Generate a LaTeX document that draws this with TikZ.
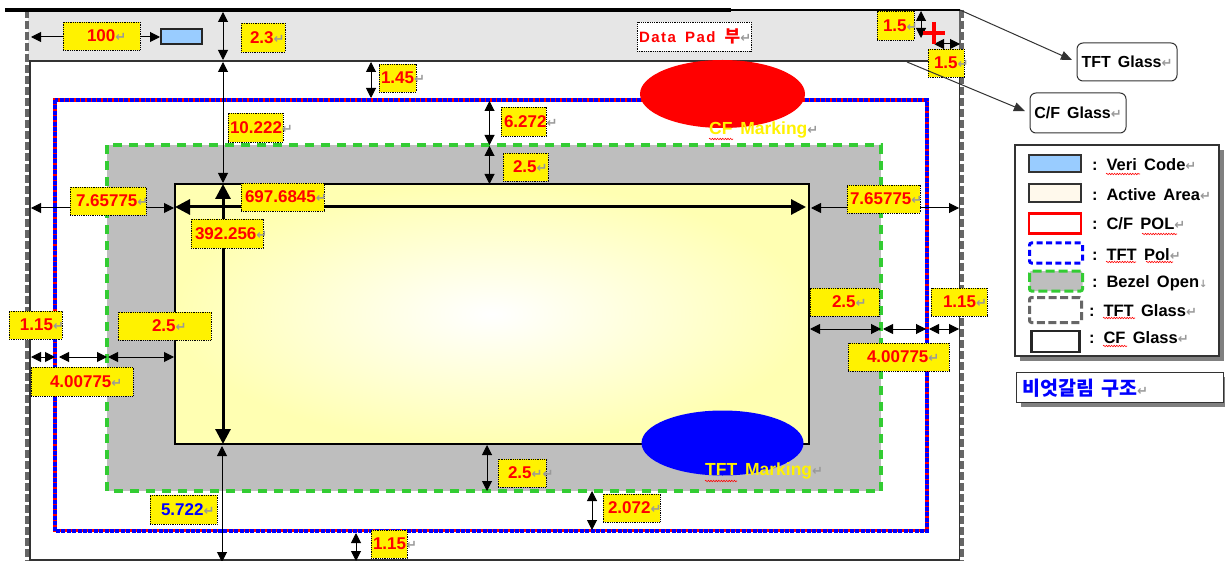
\documentclass[tikz,border=0pt]{standalone}
\usepackage{fontspec}
\setmainfont[WordSpace=1.6]{Liberation Sans}
\newfontfamily\krfont[WordSpace=1.6]{Noto Sans CJK KR}
\newfontfamily\djfont{DejaVu Sans}
\usetikzlibrary{arrows.meta,decorations.pathmorphing,shapes.geometric}
\definecolor{labred}{HTML}{FF0000}
\definecolor{padgray}{HTML}{E6E6E6}
\definecolor{bezgray}{HTML}{BEBEBE}
\definecolor{bezgreen}{HTML}{33CC33}
\definecolor{veri}{HTML}{99CCFF}
\definecolor{actfill}{HTML}{FFF9EC}
\definecolor{glassgray}{HTML}{666666}
\definecolor{retgray}{HTML}{999999}
\newcommand\ret{\smash{{\djfont\fontsize{13}{14}\selectfont\textcolor{retgray}{↵}}}}
\newcommand\dimline[3]{%
  \coordinate (#1-a) at (#2);\coordinate (#1-b) at (#3);
  \draw[dimarrow] (#1-a) -- (#1-b);}
\newcommand\lab[7][labred]{%
  \pgfmathsetmacro\labw{#4-#2}\pgfmathsetmacro\labh{#5-#3}%
  \node[ylab,minimum width=\labw pt,minimum height=\labh pt] (#7) at ({(#2+#4)/2},{(#3+#5)/2})
    {\makebox[\labw pt][l]{\hspace*{#6pt}\rlap{\raisebox{-1.5pt}{\textcolor{#1}{\csname lab@#7\endcsname}\ret}}}};}
\tikzset{
  x=1pt,y=-1pt,
  dimarrow/.style={line width=1pt,black,{Triangle[length=10pt,width=10pt]}-{Triangle[length=10pt,width=10pt]}},
  bigarrow/.style={line width=3pt,black,{Triangle[length=15pt,width=15pt]}-{Triangle[length=15pt,width=15pt]}},
  lead/.style={line width=1pt,black!80,-{Triangle[length=11pt,width=9pt]},shorten >=5pt},
  ylab/.style={fill=yellow,draw=black,densely dotted,line width=.8pt,inner sep=0pt,font=\fontsize{17}{20}\selectfont\bfseries},
  legtext/.style={anchor=west,inner sep=0pt,font=\fontsize{16.5}{18}\selectfont\bfseries},
  swatch/.style={draw=black!80,line width=1.2pt},
  roundbox/.style={draw=black!80,line width=1pt,rounded corners=6pt,fill=white,inner sep=0pt,font=\fontsize{16}{18}\selectfont\bfseries},
  polred/.style={draw=red,line width=3.4pt},
  polblue/.style={draw=blue,line width=3.4pt,dash pattern=on 4pt off 1.4pt},
  bezel/.style={draw=bezgreen,line width=4pt,dash pattern=on 9pt off 7pt},
  tftg/.style={draw=glassgray,line width=3.5pt,dash pattern=on 8pt off 3pt},
  squig/.style={draw=red,line width=.6pt,decorate,decoration={snake,segment length=2.6pt,amplitude=.7pt}},
}
\begin{document}
\begin{tikzpicture}
\useasboundingbox (0,0) rectangle (1225,561);
\fill[white] (0,0) rectangle (1225,561);
% glass and pad
\fill[padgray] (28,11) rectangle (960,61);
\draw[black!80,line width=1.5pt] (30,61) rectangle (959.5,560);
\draw[tftg] (27,10) -- (27,570);
\draw[tftg] (962,10) -- (962,570);
\draw[glassgray,line width=1.5pt] (960,10) -- (960,62);
\draw[black,line width=1.2pt] (5,10) -- (960,10);
\draw[black,line width=4pt] (5,10) -- (731,10);
% POL
\draw[polred] (55,100) rectangle (927,530.5);
\draw[polblue] (55,100) rectangle (927,531);
% bezel
\filldraw[fill=bezgray,bezel] (107,145.5) rectangle (881,491);
% active
\shade[inner color=white,outer color=yellow!30!white] (175,184) rectangle (809,444);
\node[draw=black,line width=2.2pt,inner sep=0pt,minimum width=634pt,minimum height=260pt] (active) at (492,314) {};
% marks
\node[ellipse,fill=red,minimum width=165pt,minimum height=68pt,inner sep=0pt] (cfmark) at (722.5,94) {};
\node[ellipse,fill=blue,minimum width=162pt,minimum height=65pt,inner sep=0pt] (tftmark) at (722.5,443) {};
\node[draw=black!85,fill=veri,line width=1.2pt,minimum width=41pt,minimum height=15pt,inner sep=0pt] (vericode) at (181.5,36.5) {};
% dimension lines
\dimline{d100}{31,37}{160,37}
\dimline{d23}{223,12}{223,60}
\dimline{d10}{223,62}{223,183}
\dimline{d145}{371,62}{371,98}
\dimline{d6}{489.5,101}{489.5,145}
\dimline{d25t}{489.5,146}{489.5,184}
\dimline{d7l}{31,208}{174,208}
\dimline{d7r}{811,208}{959,208}
\dimline{d115l}{31,357}{55,357}
\dimline{d4l}{59,357}{107,357}
\dimline{d25l}{108,357}{174,357}
\dimline{d25r}{810,329}{881,329}
\dimline{d4r}{883,329}{926,329}
\dimline{d115r}{929,329}{959,329}
\dimline{d25b}{487,445}{487,491}
\dimline{d2072}{592,491}{592,530}
\dimline{d5}{222,446}{222,562}
\dimline{d115b}{356,533}{356,561}
\dimline{d15a}{921,11}{921,38}
\dimline{d15b}{934,44}{960,44}
\coordinate (bigh-a) at (175,207);\coordinate (bigh-b) at (806,207);
\draw[bigarrow] (bigh-a) -- (bigh-b);
\coordinate (bigv-a) at (223,184);\coordinate (bigv-b) at (223,444);
\draw[bigarrow] (bigv-a) -- (bigv-b);
% plus mark
\draw[red,line width=3.5pt] (923,33) -- (945,33) (934,22) -- (934,44);
% labels
\makeatletter
\@namedef{lab@l100}{100}\@namedef{lab@l23}{2.3}\@namedef{lab@l145}{1.45}
\@namedef{lab@l10}{10.222}\@namedef{lab@l6}{6.272}\@namedef{lab@l25t}{2.5}
\@namedef{lab@l697}{697.6845}\@namedef{lab@l392}{392.256}
\@namedef{lab@l7l}{7.65775}\@namedef{lab@l7r}{7.65775}
\@namedef{lab@l115l}{1.15}\@namedef{lab@l25l}{2.5}\@namedef{lab@l4l}{4.00775}
\@namedef{lab@l25r}{2.5}\@namedef{lab@l115r}{1.15}\@namedef{lab@l4r}{4.00775}
\@namedef{lab@l25b}{2.5\ret}\@namedef{lab@l2072}{2.072}\@namedef{lab@l5}{5.722}
\@namedef{lab@l115b}{1.15}\@namedef{lab@l15a}{1.5}\@namedef{lab@l15b}{1.5}
\makeatother
\lab{63}{22}{140}{50}{24}{l100}
\lab{241}{23}{285}{52}{9}{l23}
\lab{379}{64}{416}{92}{2}{l145}
\lab{228}{113}{283}{142}{2}{l10}
\lab{501}{107}{546}{136}{3}{l6}
\lab{503}{153}{548}{181}{10}{l25t}
\lab{241}{183}{324}{211}{4}{l697}
\lab{191}{219}{263}{248}{4}{l392}
\lab{70}{187}{146}{215}{6}{l7l}
\lab{847}{185}{920}{213}{3}{l7r}
\lab{9}{311}{62}{339}{11}{l115l}
\lab{118}{312}{211}{340}{34}{l25l}
\lab{31}{367}{133}{396}{19}{l4l}
\lab{810}{288}{879}{316}{22}{l25r}
\lab{931}{288}{987}{316}{12}{l115r}
\lab{848}{343}{949}{371}{19}{l4r}
\lab{498}{459}{546}{487}{10}{l25b}
\lab{603}{494}{660}{522}{5}{l2072}
\lab[blue]{150}{495}{217}{524}{11}{l5}
\lab{371}{530}{407}{558}{2}{l115b}
\lab{877}{11}{914}{40}{6}{l15a}
\lab{928}{49}{964}{77}{6}{l15b}
% data pad
\node[fill=white,draw=black,densely dotted,line width=.8pt,inner sep=0pt,minimum width=114pt,minimum height=29pt,
  font=\fontsize{15}{18}\selectfont\bfseries] (datapad) at (694,36.5)
  {\makebox[114pt][l]{\hspace*{2pt}\rlap{\textcolor{red}{\addfontfeature{LetterSpace=10}Data Pad {\krfont\fontsize{17}{18}\selectfont 부}}\ret}}};
% marking texts
\node[anchor=west,inner sep=0pt,font=\fontsize{17.5}{18}\selectfont\bfseries] (cftext) at (709,130) {\textcolor{yellow}{CF Marking}\ret};
\node[anchor=west,inner sep=0pt,font=\fontsize{17.5}{18}\selectfont\bfseries] (tfttext) at (705,471) {\textcolor{yellow}{TFT Marking}\ret};
\draw[squig] (709,139) -- (733,139);
\draw[squig] (705,481) -- (737,481);
% call-outs
\node[roundbox,minimum width=100pt,minimum height=38pt] (tftbox) at (1127,62) {TFT Glass\ret};
\node[roundbox,minimum width=96pt,minimum height=40pt] (cfbox) at (1078,113) {C/F Glass\ret};
\coordinate (tftcorner) at (960,10);
\coordinate (cfcorner) at (907,62);
\draw[lead] (tftcorner) -- (tftbox.west);
\draw[lead] (cfcorner) -- (cfbox.west);
% legend
\fill[gray] (1020,150) rectangle (1224,361);
\node[draw=black!80,fill=white,line width=1.2pt,minimum width=204pt,minimum height=211pt,inner sep=0pt] (legend) at (1117,250.5) {};
\node[swatch,fill=veri,minimum width=52pt,minimum height=17pt,inner sep=0pt] (s1) at (1055,163.5) {};
\node[legtext] (t1) at (1092,165) {: Veri Code\ret};
\node[swatch,fill=actfill,minimum width=52pt,minimum height=18pt,inner sep=0pt] (s2) at (1055,193) {};
\node[legtext] (t2) at (1092,195) {: Active Area\ret};
\node[draw=red,line width=2.5pt,fill=white,minimum width=52pt,minimum height=20pt,inner sep=0pt] (s3) at (1055,223.5) {};
\node[legtext] (t3) at (1092,224) {: C/F POL\ret};
\node[draw=blue,line width=3pt,dash pattern=on 6pt off 3.5pt,rounded corners=2pt,minimum width=53pt,minimum height=20pt,inner sep=0pt] (s4) at (1056,253) {};
\node[legtext] (t4) at (1092,255) {: TFT Pol\ret};
\node[draw=bezgreen,fill=bezgray,line width=3pt,dash pattern=on 9pt off 4pt,rounded corners=2pt,minimum width=53pt,minimum height=20pt,inner sep=0pt] (s5) at (1056,281) {};
\node[legtext] (t5) at (1092,283) {: Bezel Open{\djfont\fontsize{10}{10}\selectfont\textcolor{retgray}{↓}}};
\node[draw=glassgray,line width=3pt,dash pattern=on 8pt off 3.5pt,rounded corners=2pt,minimum width=52pt,minimum height=25pt,inner sep=0pt] (s6) at (1055.5,310) {};
\node[legtext] (t6) at (1089,311) {: TFT Glass\ret};
\node[draw=black!85,line width=2.5pt,minimum width=48pt,minimum height=21pt,inner sep=0pt] (s7) at (1055.5,341.5) {};
\node[legtext] (t7) at (1089,338) {: CF Glass\ret};
\draw[squig] (1106,174) -- (1140,174);
\draw[squig] (1142,234) -- (1177,234);
\draw[squig] (1106,262) -- (1136,262);
\draw[squig] (1146,262) -- (1173,262);
\draw[squig] (1103,318) -- (1135,318);
\draw[squig] (1103,346) -- (1127,346);
% note
\fill[gray] (1021,377) rectangle (1225,407);
\node[draw=black!80,fill=white,line width=1pt,minimum width=207pt,minimum height=30pt,inner sep=0pt] (note) at (1119.5,387) {};
\node[anchor=west,inner sep=0pt,font=\krfont\fontsize{19.5}{20}\selectfont\bfseries,text=blue] (notetext) at (1022,388) {비엇갈림 구조\ret};
\end{tikzpicture}
\end{document}
